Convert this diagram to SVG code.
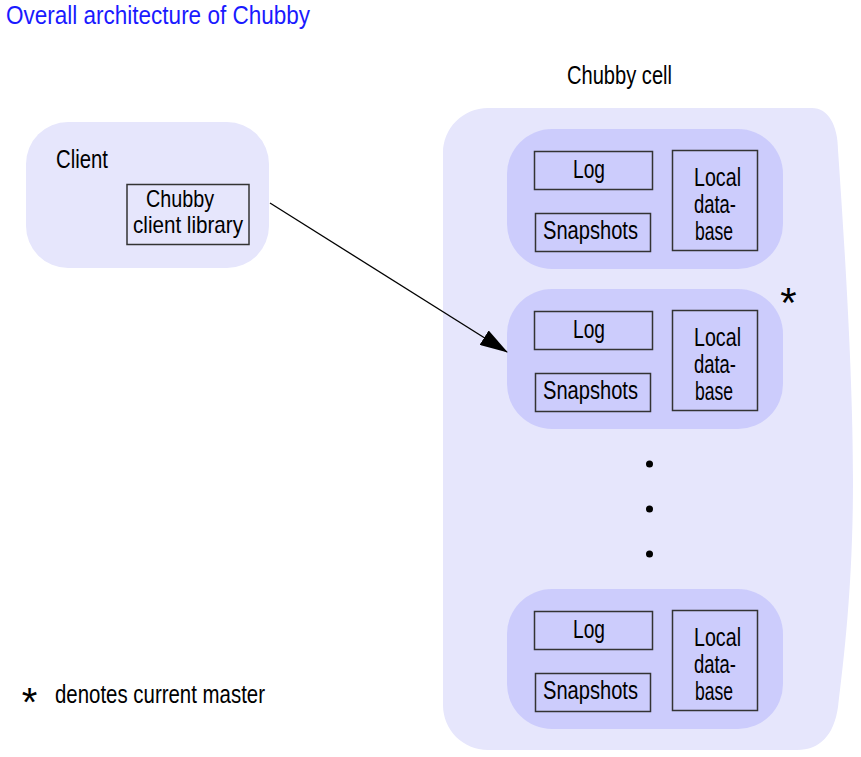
<svg xmlns="http://www.w3.org/2000/svg" width="861" height="757" viewBox="0 0 861 757">
<style>
.t{font-family:"Liberation Sans",Arial,sans-serif;font-size:25px;fill:#000;}
.s{font-size:24px;}
.title{font-family:"Liberation Sans",Arial,sans-serif;font-size:26px;fill:#1a1aff;}
.ast{font-family:"Liberation Sans",Arial,sans-serif;font-size:40px;fill:#000;text-anchor:middle;}
.light{fill:#e6e6fc;}
.srv{fill:#ccccfc;}
.box{fill:none;stroke:#333;stroke-width:1.5;}
.dot{fill:#000;}
</style>
<defs>
<marker id="ah" viewBox="0 0 28 17" markerWidth="28" markerHeight="17" refX="27" refY="8.5" orient="auto" markerUnits="userSpaceOnUse">
<path d="M0,0 L28,8.5 L0,17 Z" fill="#000"/>
</marker>
<g id="server">
<rect class="srv" x="507" y="129" width="276" height="140" rx="45" ry="45"/>
<rect class="box" x="534.5" y="151.5" width="118" height="38"/>
<rect class="box" x="535.5" y="213.5" width="115" height="38"/>
<rect class="box" x="672.5" y="150.5" width="85" height="100"/>
<text class="t" x="573" y="178" textLength="32" lengthAdjust="spacingAndGlyphs">Log</text>
<text class="t" x="543" y="239" textLength="95" lengthAdjust="spacingAndGlyphs">Snapshots</text>
<text class="t" x="694" y="186" textLength="47" lengthAdjust="spacingAndGlyphs">Local</text>
<text class="t" x="694" y="213" textLength="42" lengthAdjust="spacingAndGlyphs">data-</text>
<text class="t" x="695" y="240" textLength="38" lengthAdjust="spacingAndGlyphs">base</text>
</g>
</defs>
<rect x="0" y="0" width="861" height="757" fill="#fff"/>
<text class="title" x="6" y="24" textLength="304" lengthAdjust="spacingAndGlyphs">Overall architecture of Chubby</text>
<g id="cell">
<path class="light" d="M 488 108 L 812 108 C 828 108 838 125 838 150 C 845 250 853 380 853 480 C 853 580 845 650 838 707 C 834 735 820 750 797 750 L 488 750 C 463 750 443 730 443 705 L 443 153 C 443 128 463 108 488 108 Z"/>
<text class="t" x="567" y="84" textLength="105" lengthAdjust="spacingAndGlyphs">Chubby cell</text>
</g>
<g id="client">
<rect class="light" x="26" y="122" width="243" height="146" rx="42" ry="42"/>
<text class="t" x="56" y="168" textLength="52" lengthAdjust="spacingAndGlyphs">Client</text>
</g>
<g id="client-library">
<rect class="box" x="127" y="184.5" width="122" height="60"/>
<text class="t s" x="146" y="207" textLength="68" lengthAdjust="spacingAndGlyphs">Chubby</text>
<text class="t s" x="133" y="233" textLength="110" lengthAdjust="spacingAndGlyphs">client library</text>
</g>
<g id="server1"><use href="#server"/></g>
<g id="server2"><use href="#server" transform="translate(0,160)"/></g>
<g id="server3"><use href="#server" transform="translate(0,460)"/></g>
<g id="master-mark">
<text class="ast" x="788.5" y="317" style="font-size:42px">*</text>
</g>
<g id="ellipsis">
<circle class="dot" cx="649.5" cy="464" r="3.5"/>
<circle class="dot" cx="649.5" cy="509" r="3.5"/>
<circle class="dot" cx="649.5" cy="554" r="3.5"/>
</g>
<g id="connectors">
<line x1="270" y1="203" x2="507" y2="352" stroke="#000" stroke-width="1.3" marker-end="url(#ah)"/>
</g>
<g id="legend">
<text class="ast" x="29.5" y="716">*</text>
<text class="t" x="55" y="703" textLength="210" lengthAdjust="spacingAndGlyphs">denotes current master</text>
</g>
</svg>
